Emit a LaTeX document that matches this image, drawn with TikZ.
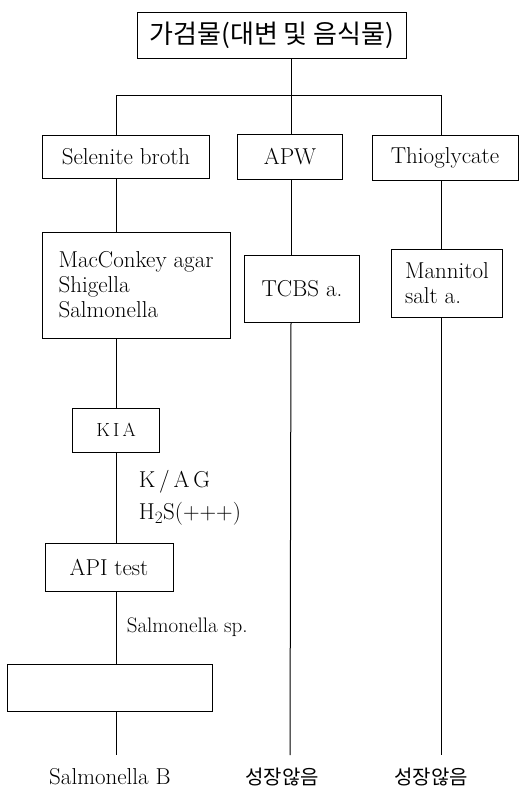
\documentclass[tikz,border=0pt]{standalone}
\usepackage{fontspec}
\newfontfamily\krfont{Noto Sans CJK KR}
\begin{document}
\begin{tikzpicture}[
          x=1pt, y=-1pt,
          line width=1pt,
          every node/.style={font=\fontsize{23}{25}\selectfont},
          box/.style={draw, inner sep=0pt},
          kr/.style={font=\fontsize{#1}{#1}\selectfont\krfont}]
            \useasboundingbox (0,0) rectangle (519,796);

            \node[box, kr=26, minimum width=269, minimum height=46] (src) at (272,35) {가검물(대변 및 음식물)};

            \node[box, minimum width=167, minimum height=43] (sel)  at (126,157) {Selenite broth};
            \node[box, minimum width=105, minimum height=45] (apw)  at (290,157) {APW};
            \node[box, minimum width=146, minimum height=45] (thio) at (445,158) {Thioglycate};

            \coordinate (bar)  at (291,95);
            \coordinate (barL) at (116,95);
            \coordinate (barR) at (441,95);

            \draw (src.south -| bar) -- (bar);
            \draw (barL) -- (barR);
            \draw (barL) -- (sel.north -| barL);
            \draw (bar)  -- (apw.north -| bar);
            \draw (barR) -- (thio.north -| barR);

            \node[box, align=left, minimum width=188, minimum height=106] (mac) at (136,285)
              {MacConkey agar\\Shigella\\Salmonella};
            \node[box, minimum width=115, minimum height=67] (tcbs) at (302,289) {TCBS a.};
            \node[box, align=left, minimum width=111, minimum height=68] (mann) at (447,283)
              {Mannitol\\salt a.};

            \node[box, font=\fontsize{19}{21}\selectfont, minimum width=87, minimum height=44] (kia) at (116,430) {K\,I\,A};
            \node[anchor=west] (kag) at (135,482) {K\,/\,A\,G};
            \node[anchor=west] (hs)  at (135,514) {H$_2$S(+++)};

            \node[box, minimum width=128, minimum height=48] (api) at (109,567) {API test};
            \node[anchor=west, font=\fontsize{21}{23}\selectfont] (sp) at (123,627) {Salmonella sp.};

            \node[box, minimum width=205, minimum height=47] (blank) at (110,688) {};

            \coordinate (endL) at (116,755);
            \coordinate (endM) at (290,755);
            \coordinate (endR) at (441,755);

            % Selenite broth
            \foreach \a/\b in {sel/mac, mac/kia, kia/api, api/blank}
              \draw (\a.south -| barL) -- (\b.north -| barL);
            \draw (blank.south -| barL) -- (endL);
            % APW
            \draw (apw.south -| bar) -- (tcbs.north -| bar);
            \draw (tcbs.south -| bar) -- (endM);
            % Thioglycate
            \draw (thio.south -| barR) -- (mann.north -| barR);
            \draw (mann.south -| barR) -- (endR);

            \node (resL) at (110,777) {Salmonella B};
            \node[kr=20] (resM) at (282,777) {성장않음};
            \node[kr=20] (resR) at (431,777) {성장않음};
          \end{tikzpicture}
\end{document}
